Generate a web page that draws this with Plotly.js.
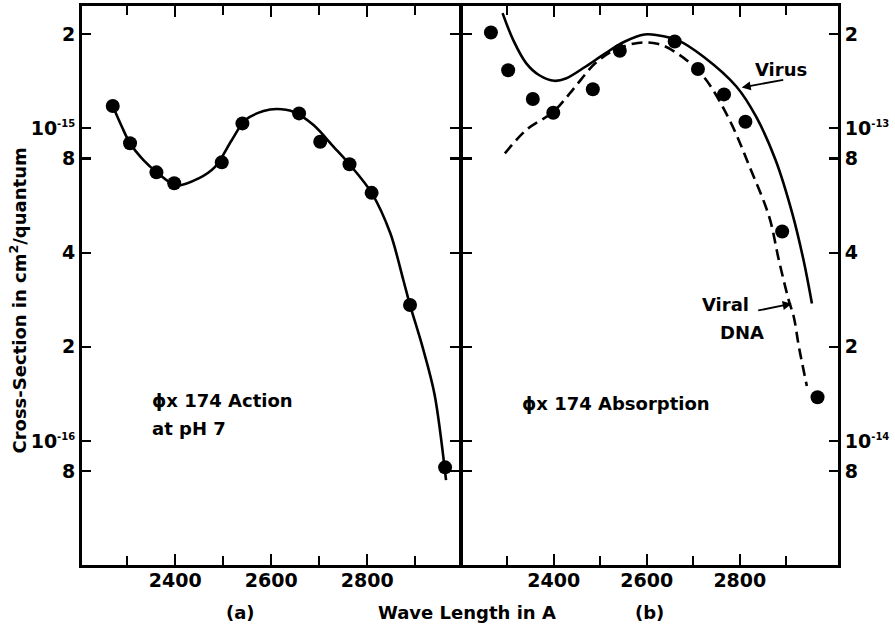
<!DOCTYPE html>
<html>
<head>
<meta charset="utf-8">
<script src="https://cdn.plot.ly/plotly-3.0.1.min.js"></script>
<style>html,body{margin:0;padding:0;background:#fff;}#chart{width:895px;height:626px;}</style>
</head>
<body>
<div id="chart"></div>
<script>
// ---- Panel (a): phiX 174 action spectrum at pH 7 ----
const actionWl = [2270, 2306, 2361, 2398, 2497, 2540, 2658, 2702, 2763, 2809, 2889, 2962];
const actionVal = [1.176e-15, 0.894e-15, 0.722e-15, 0.666e-15, 0.777e-15, 1.035e-15, 1.114e-15, 0.904e-15, 0.766e-15, 0.621e-15, 0.272e-15, 0.824e-16];
const actionCurveWl = [2270, 2289, 2306, 2334, 2362, 2403, 2449, 2483, 2518, 2546, 2584, 2612, 2646, 2688, 2730, 2763, 2809, 2848, 2875, 2889, 2915, 2940, 2964];
const actionCurveVal = [1.176e-15, 1.01e-15, 0.894e-15, 0.79e-15, 0.722e-15, 0.656e-15, 0.691e-15, 0.752e-15, 0.916e-15, 1.061e-15, 1.133e-15, 1.15e-15, 1.127e-15, 1.022e-15, 0.871e-15, 0.766e-15, 0.621e-15, 0.461e-15, 0.327e-15, 0.272e-15, 0.2e-15, 0.1412e-15, 0.075e-15];

// ---- Panel (b): phiX 174 absorption ----
const absWl = [2265, 2302, 2355, 2399, 2484, 2542, 2660, 2710, 2766, 2812, 2891, 2967];
const absVal = [2.02e-13, 1.53e-13, 1.238e-13, 1.119e-13, 1.33e-13, 1.766e-13, 1.89e-13, 1.545e-13, 1.281e-13, 1.047e-13, 0.467e-13, 1.38e-14];
const virusWl = [2290, 2313, 2341, 2369, 2401, 2426, 2468, 2510, 2553, 2595, 2623, 2666, 2722, 2793, 2835, 2877, 2913, 2937, 2955];
const virusVal = [2.33e-13, 1.91e-13, 1.61e-13, 1.475e-13, 1.416e-13, 1.44e-13, 1.57e-13, 1.73e-13, 1.89e-13, 1.99e-13, 1.98e-13, 1.91e-13, 1.69e-13, 1.355e-13, 1.087e-13, 0.789e-13, 0.532e-13, 0.378e-13, 0.275e-13];
const dnaWl = [2295, 2341, 2399, 2440, 2489, 2532, 2581, 2623, 2666, 2722, 2778, 2821, 2863, 2884, 2905, 2916, 2927, 2944];
const dnaVal = [0.83e-13, 0.986e-13, 1.127e-13, 1.32e-13, 1.61e-13, 1.78e-13, 1.87e-13, 1.86e-13, 1.73e-13, 1.46e-13, 1.06e-13, 0.752e-13, 0.521e-13, 0.378e-13, 0.282e-13, 0.249e-13, 0.2e-13, 0.15e-13];

// ---- Tick labels ----
const xTickVals = [2400, 2600, 2800];
const xTickText = ["2400", "2600", "2800"];
const xMinorTickVals = [2300, 2500, 2700, 2900];
const yLeftTickVals = [8e-17, 1e-16, 2e-16, 4e-16, 8e-16, 1e-15, 2e-15];
const yRightTickVals = [8e-15, 1e-14, 2e-14, 4e-14, 8e-14, 1e-13, 2e-13];
const SUP = (s) => "10<sup><span style='font-size:10px'>" + s + "</span></sup>";
const yLeftTickText = ["8", SUP("-16"), "2", "4", "8", SUP("-15"), "2"];
const yRightTickText = ["8", SUP("-14"), "2", "4", "8", SUP("-13"), "2"];

const FONT = {family: "DejaVu Sans, sans-serif", size: 18, color: "#000", weight: "bold"};
const TICKFONT = {family: "DejaVu Sans, sans-serif", size: 19, color: "#000", weight: "bold"};

const traces = [
  {x: actionCurveWl, y: actionCurveVal, xaxis: "x", yaxis: "y", mode: "lines",
   line: {color: "#000", width: 2.6, shape: "spline", smoothing: 0.9}},
  {x: actionWl, y: actionVal, xaxis: "x", yaxis: "y", mode: "markers",
   marker: {color: "#000", size: 14}},
  {x: virusWl, y: virusVal, xaxis: "x2", yaxis: "y2", mode: "lines",
   line: {color: "#000", width: 2.6, shape: "spline", smoothing: 1}},
  {x: dnaWl, y: dnaVal, xaxis: "x2", yaxis: "y2", mode: "lines",
   line: {color: "#000", width: 2.6, shape: "spline", smoothing: 1, dash: "11px,6px"}},
  {x: absWl, y: absVal, xaxis: "x2", yaxis: "y2", mode: "markers",
   marker: {color: "#000", size: 14}}
];

const xCommon = {
  type: "linear", showgrid: false, zeroline: false,
  showline: true, linecolor: "#000", linewidth: 3, mirror: "ticks",
  ticks: "inside", ticklen: 11, tickwidth: 2.2, tickcolor: "#000",
  tickmode: "array", tickvals: xTickVals, ticktext: xTickText,
  minor: {tickmode: "array", tickvals: xMinorTickVals, ticks: "inside", ticklen: 9, tickwidth: 2.2, tickcolor: "#000", showgrid: false},
  tickfont: TICKFONT, ticklabelstandoff: -4
};
const yCommon = {
  type: "log", showgrid: false, zeroline: false,
  showline: true, linecolor: "#000", linewidth: 3, mirror: "ticks",
  ticks: "inside", ticklen: 9, tickwidth: 2.2, tickcolor: "#000",
  tickmode: "array", tickfont: TICKFONT
};

const layout = {
  width: 895, height: 626,
  margin: {l: 82, r: 57, t: 6, b: 61},
  paper_bgcolor: "#fff", plot_bgcolor: "#fff",
  showlegend: false,
  font: FONT,
  xaxis: Object.assign({}, xCommon, {domain: [0, 0.4987], range: [2206, 2991], anchor: "y"}),
  xaxis2: Object.assign({}, xCommon, {domain: [0.504, 1], range: [2205, 3011], anchor: "y2"}),
  yaxis: Object.assign({}, yCommon, {anchor: "x", side: "left", range: [-16.396, -14.610],
    tickvals: yLeftTickVals, ticktext: yLeftTickText}),
  yaxis2: Object.assign({}, yCommon, {anchor: "x2", side: "right", range: [-14.396, -12.610],
    tickvals: yRightTickVals, ticktext: yRightTickText}),
  annotations: [
    {xref: "paper", yref: "paper", x: -0.0847, y: 0.473, text: "Cross-Section in cm<sup>2</sup>/quantum",
     textangle: -90, showarrow: false, xanchor: "center", yanchor: "middle", font: FONT},
    {xref: "paper", yref: "paper", x: 0.509, y: -0.0857, text: "Wave Length in A",
     showarrow: false, xanchor: "center", yanchor: "middle", font: FONT},
    {xref: "paper", yref: "paper", x: 0.209, y: -0.0857, text: "(a)",
     showarrow: false, xanchor: "center", yanchor: "middle", font: FONT},
    {xref: "paper", yref: "paper", x: 0.75, y: -0.0857, text: "(b)",
     showarrow: false, xanchor: "center", yanchor: "middle", font: FONT},
    {xref: "paper", yref: "paper", x: 0.090, y: 0.2946, text: "ϕx 174 Action",
     showarrow: false, xanchor: "left", yanchor: "middle", font: FONT},
    {xref: "paper", yref: "paper", x: 0.090, y: 0.2446, text: "at pH 7",
     showarrow: false, xanchor: "left", yanchor: "middle", font: FONT},
    {xref: "paper", yref: "paper", x: 0.579, y: 0.289, text: "ϕx 174 Absorption",
     showarrow: false, xanchor: "left", yanchor: "middle", font: FONT},
    {xref: "paper", yref: "paper", x: 0.8876, y: 0.8857, text: "Virus",
     showarrow: false, xanchor: "left", yanchor: "middle", font: FONT},
    {xref: "paper", yref: "paper", x: 0.8175, y: 0.466, text: "Viral",
     showarrow: false, xanchor: "left", yanchor: "middle", font: FONT},
    {xref: "paper", yref: "paper", x: 0.841, y: 0.416, text: "DNA",
     showarrow: false, xanchor: "left", yanchor: "middle", font: FONT},
    {xref: "paper", yref: "paper", x: (741.7 - 82) / 756, y: (565 - 86.7) / 560, text: "",
     showarrow: true, ax: 43, ay: -8, arrowhead: 2, arrowsize: 1, arrowwidth: 1.8, arrowcolor: "#000"},
    {xref: "paper", yref: "paper", x: (791.7 - 82) / 756, y: (565 - 303.3) / 560, text: "",
     showarrow: true, ax: -35, ay: 7, arrowhead: 2, arrowsize: 1, arrowwidth: 1.8, arrowcolor: "#000"}
  ]
};

Plotly.newPlot("chart", traces, layout, {displayModeBar: false, staticPlot: true});
</script>
</body>
</html>
